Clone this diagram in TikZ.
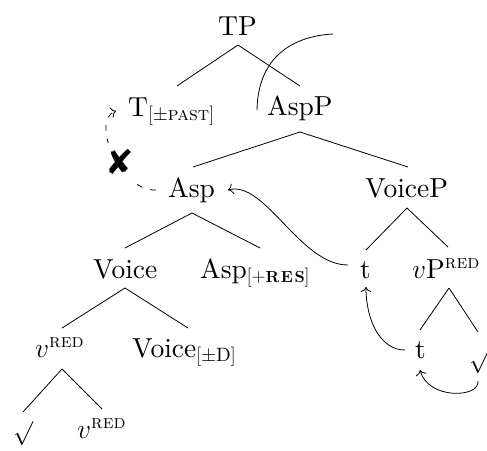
\RequirePackage{fix-cm}
\documentclass[tikz,border=0pt]{standalone}
\usepackage{amsmath}
\usepackage{fontspec}
\setmainfont{lmroman10-regular.otf}[BoldFont=lmroman10-bold.otf, ItalicFont=lmroman10-italic.otf, SmallCapsFont=lmromancaps10-regular.otf]
\newfontfamily\symfnt{DejaVu Sans}
\usetikzlibrary{calc,arrows.meta}
\begin{document}
\begin{tikzpicture}[x=1pt,y=-1pt, >={To[scale=1.5]},
  lab/.style={anchor=base west, inner sep=0pt, font=\fontsize{27.5}{33}\selectfont},
  sq/.style={anchor=center, inner sep=0pt, font=\fontsize{24}{24}\selectfont},
  branch/.style={line width=0.8pt},
  mv/.style={line width=0.8pt, ->},
  dmv/.style={line width=0.8pt, ->, dash pattern=on 6pt off 8pt},
  crossmark/.style={anchor=center, inner sep=6pt, fill=white, font=\symfnt\fontsize{34}{34}\selectfont}]
\useasboundingbox (0,0) rectangle (487,450);

\node[lab] (TP) at (218,35) {TP};
\node[lab] (T) at (128,116) {T$_{[\pm\textsc{past}]}$};
\node[lab] (AspP) at (267,115) {AspP};
\node[lab] (Asp) at (168,197) {Asp};
\node[lab] (VoiceP) at (365,197) {VoiceP};
\node[lab] (Voice) at (93,278) {Voice};
\node[lab] (AspRes) at (200,278) {Asp$_{[+\textbf{\fontsize{16}{16}\selectfont R\kern1.5pt E\kern1.5pt S}]}$};
\node[lab] (t1) at (360,278) {t};
\node[lab] (vP) at (412,278) {$v\mathrm{P}^{\textsc{red}}$};
\node[lab] (vR1) at (35,357) {$v^{\textsc{red}}$};
\node[lab] (VoiceD) at (132,357) {Voice$_{[\pm\mathrm{D}]}$};
\node[lab] (t2) at (415,358) {t};
\node[sq] (sqR) at (479,362) {$\surd$};
\node[lab] (vR2) at (77,438) {$v^{\textsc{red}}$};
\node[sq] (sqL) at (23,434) {$\surd$};
\coordinate (arcEnd) at (333,34);

% branches
\draw[branch] ($(TP.base west)+(20,10)$) -- ($(T.base west)+(49,-30)$);
\draw[branch] ($(TP.base west)+(20,10)$) -- ($(AspP.base west)+(33,-29)$);
\draw[branch] ($(AspP.base west)+(33,17)$) -- ($(Asp.base west)+(25,-30)$);
\draw[branch] ($(AspP.base west)+(33,17)$) -- ($(VoiceP.base west)+(43,-30)$);
\draw[branch] ($(Asp.base west)+(24,16)$) -- ($(Voice.base west)+(32,-30)$);
\draw[branch] ($(Asp.base west)+(24,16)$) -- ($(AspRes.base west)+(60,-30)$);
\draw[branch] ($(VoiceP.base west)+(42,11)$) -- ($(t1.base west)+(6,-28)$);
\draw[branch] ($(VoiceP.base west)+(42,11)$) -- ($(vP.base west)+(36,-31)$);
\draw[branch] ($(Voice.base west)+(32,10)$) -- ($(vR1.base west)+(27,-29)$);
\draw[branch] ($(Voice.base west)+(32,10)$) -- ($(VoiceD.base west)+(56,-29)$);
\draw[branch] ($(vP.base west)+(37,10)$) -- ($(t2.base west)+(5,-28)$);
\draw[branch] ($(vP.base west)+(37,10)$) -- ($(sqR.center)+(-1,-30)$);
\draw[branch] ($(vR1.base west)+(27,12)$) -- ($(sqL.center)+(0,-22)$);
\draw[branch] ($(vR1.base west)+(27,12)$) -- ($(vR2.base west)+(25,-29)$);

% arc from AspP
\draw[branch] ($(AspP.base west)+(-10,-5)$) .. controls (258,55) and (295,36) .. (arcEnd);

% movement arrows
\draw[dmv] ($(Asp.base west)+(-12,-7)$) .. controls (120,192) and (90,120) .. ($(T.base west)+(-12,-5)$);
\node[crossmark] (cross) at (120,162) {✘};
\draw[mv] ($(t1.base west)+(-12,-13)$) .. controls (300,265) and (265,180) .. ($(Asp.base west)+(60,-7)$);
\draw[mv] ($(t2.base west)+(-10,-8)$) .. controls (380,350) and (366,320) .. ($(t1.base west)+(6,9)$);
\draw[mv] ($(sqR.center)+(-1,19)$) .. controls (480,398) and (428,400) .. ($(t2.base west)+(5,12)$);
\end{tikzpicture}
\end{document}
